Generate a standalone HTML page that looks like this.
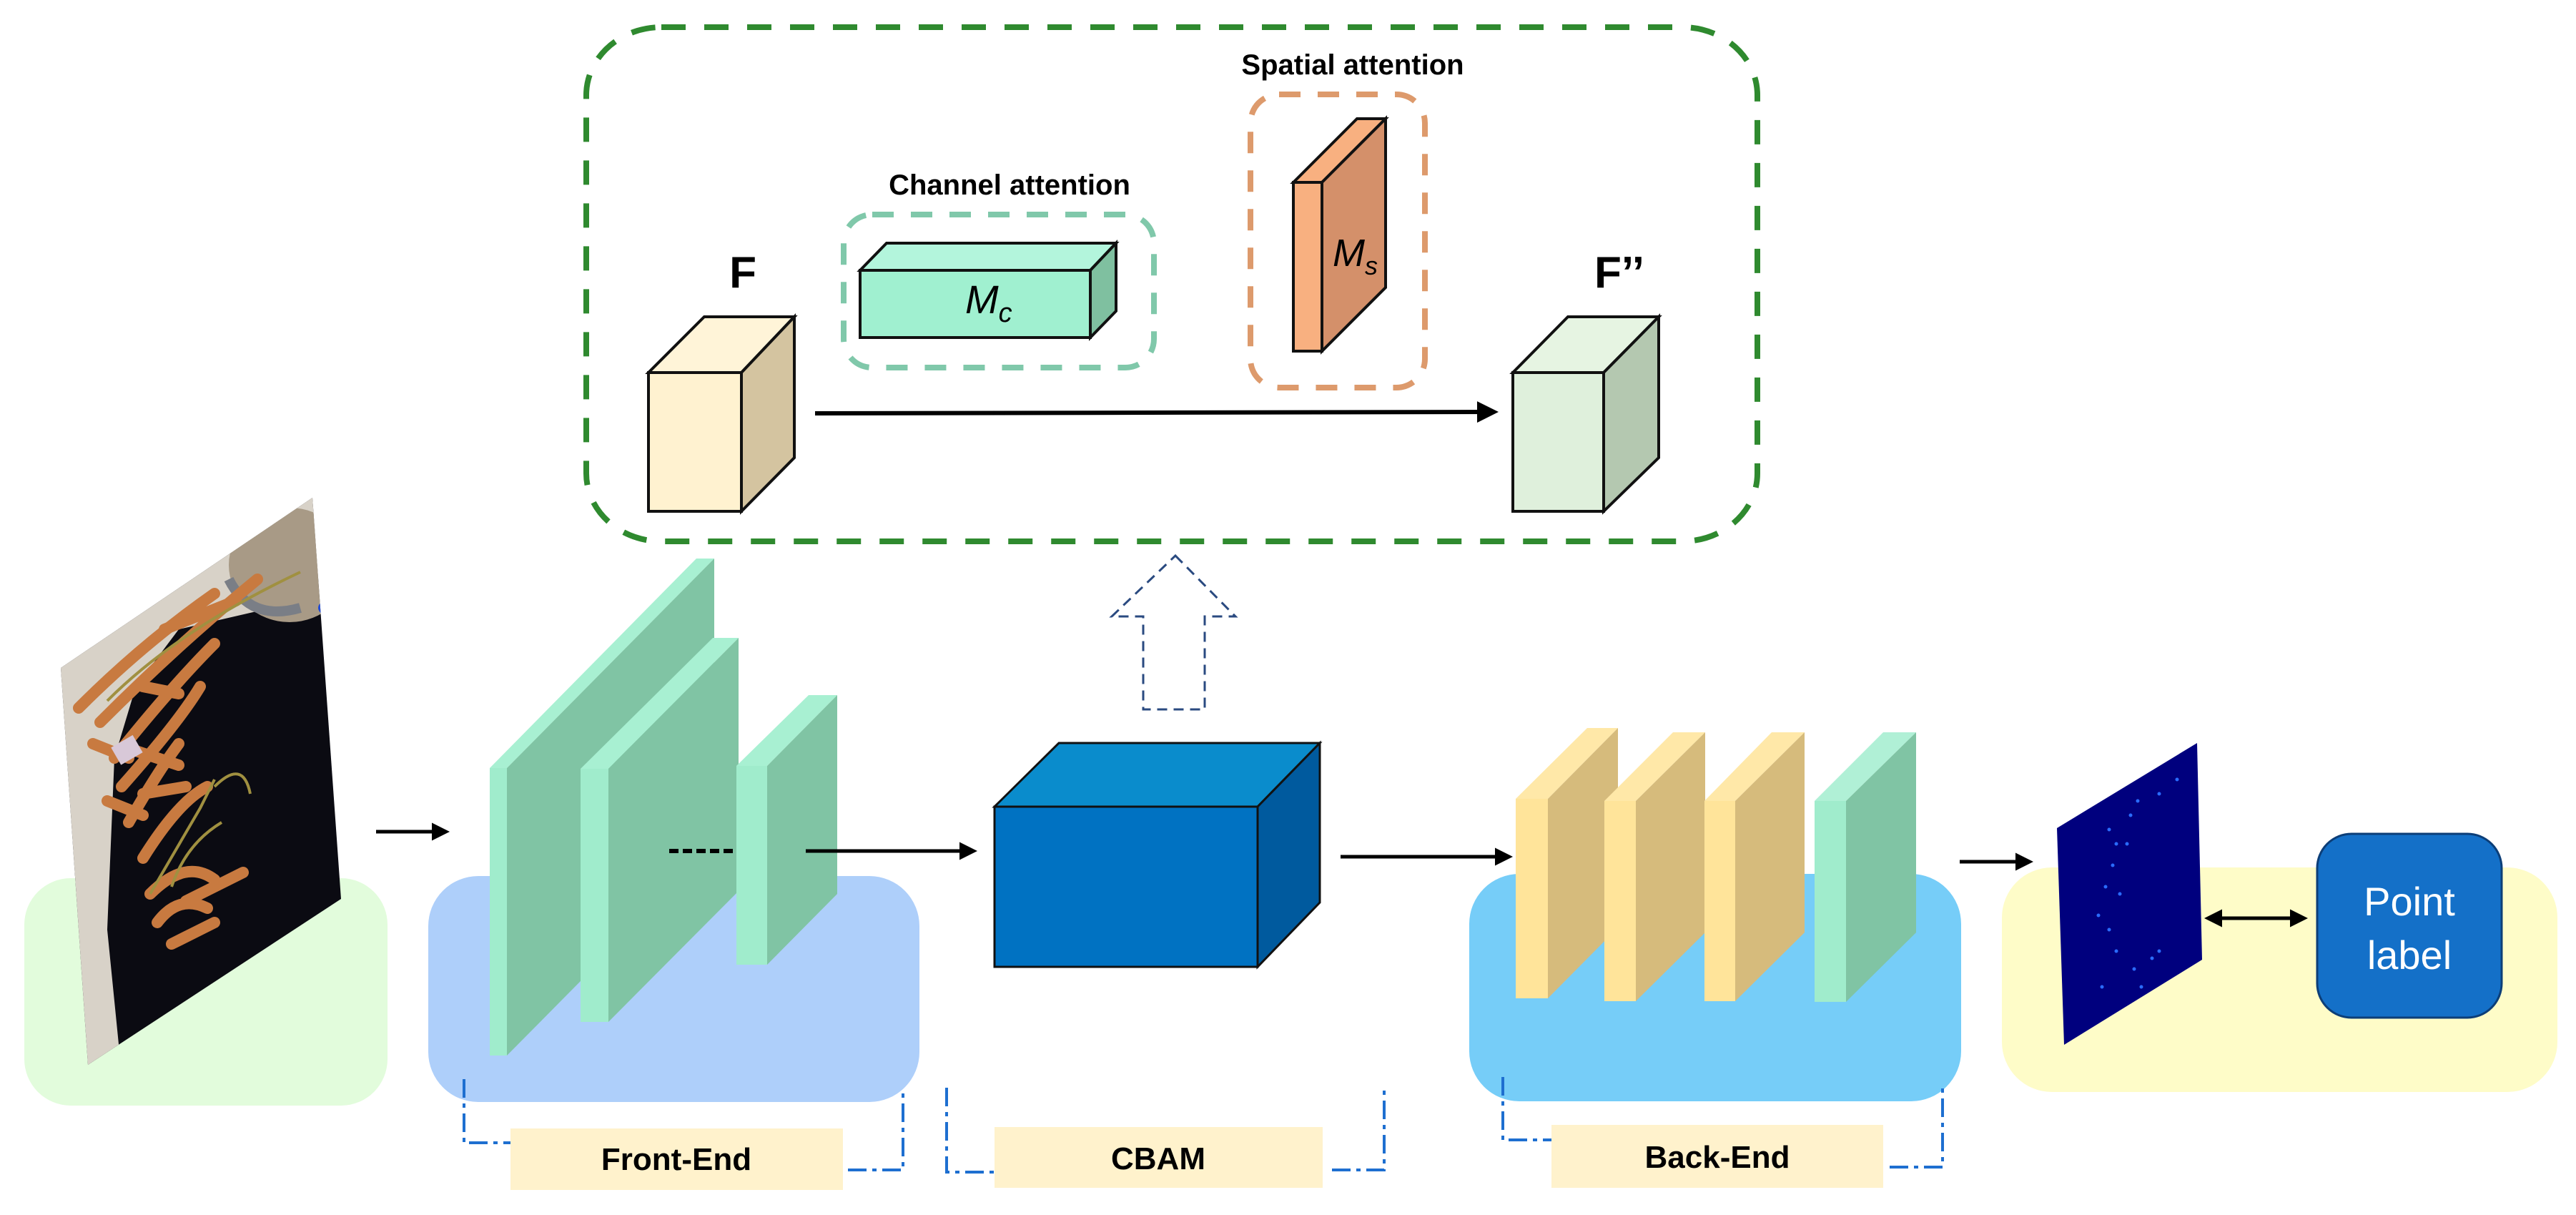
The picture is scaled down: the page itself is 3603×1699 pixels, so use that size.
<!DOCTYPE html>
<html><head><meta charset="utf-8"><style>
html,body{margin:0;padding:0;background:#fff;}
svg{display:block;}
text{font-family:"Liberation Sans",sans-serif;}
</style></head><body>
<svg width="3603" height="1699" viewBox="0 0 3603 1699" xmlns="http://www.w3.org/2000/svg">
<defs>
<marker id="ah" markerWidth="5" markerHeight="5" refX="4" refY="2.5" orient="auto" markerUnits="strokeWidth"><path d="M0,0 L5,2.5 L0,5 z" fill="#000"/></marker>
<marker id="ahs" markerWidth="5" markerHeight="5" refX="1" refY="2.5" orient="auto-start-reverse" markerUnits="strokeWidth"><path d="M0,0 L5,2.5 L0,5 z" fill="#000"/></marker>
<clipPath id="photo"><polygon points="85,934 437,696 477,1257 123,1489"/></clipPath>
</defs>

<rect x="820" y="38" width="1638" height="719" rx="105" ry="95" fill="none" stroke="#2f8a2f" stroke-width="8" stroke-dasharray="34,26"/>
<text x="1412" y="272" font-size="40" font-weight="bold" text-anchor="middle">Channel attention</text>
<text x="1892" y="104" font-size="40" font-weight="bold" text-anchor="middle">Spatial attention</text>
<rect x="1180" y="300" width="434" height="214" rx="40" fill="none" stroke="#80c8aa" stroke-width="8" stroke-dasharray="30,24"/>
<rect x="1749" y="132" width="244" height="410" rx="40" fill="none" stroke="#dd9a6c" stroke-width="8" stroke-dasharray="30,24"/>
<polygon points="1203,378 1240,340 1561,340 1525,378" fill="#b3f5dc" stroke="#111" stroke-width="4"/>
<polygon points="1525,378 1561,340 1561,435 1525,472" fill="#7fc0a0" stroke="#111" stroke-width="4"/>
<rect x="1203" y="378" width="322" height="94" fill="#a0f0d0" stroke="#111" stroke-width="4"/>
<text x="1350" y="438" font-family="'Liberation Serif',serif" font-style="italic" font-size="56">M<tspan font-size="38" dy="12">c</tspan></text>
<polygon points="1809,255 1898,166 1938,166 1849,255" fill="#f8b080" stroke="#111" stroke-width="4"/>
<polygon points="1849,255 1938,166 1938,402 1849,491" fill="#d4906a" stroke="#111" stroke-width="4"/>
<rect x="1809" y="255" width="40" height="236" fill="#f8b080" stroke="#111" stroke-width="4"/>
<text x="1864" y="372" font-family="'Liberation Serif',serif" font-style="italic" font-size="54">M<tspan font-size="36" dy="12">s</tspan></text>
<text x="1039" y="402" font-size="62" font-weight="bold" text-anchor="middle">F</text>
<polygon points="907,521 985,443 1111,443 1037,521" fill="#fff4d8" stroke="#111" stroke-width="4"/>
<polygon points="1037,521 1111,443 1111,640 1037,715" fill="#d4c4a0" stroke="#111" stroke-width="4"/>
<rect x="907" y="521" width="130" height="194" fill="#fff2d0" stroke="#111" stroke-width="4"/>
<text x="2265" y="402" font-size="62" font-weight="bold" text-anchor="middle">F’’</text>
<polygon points="2116,521 2193,443 2320,443 2243,521" fill="#e6f4e2" stroke="#111" stroke-width="4"/>
<polygon points="2243,521 2320,443 2320,640 2243,715" fill="#b4c8b0" stroke="#111" stroke-width="4"/>
<rect x="2116" y="521" width="127" height="194" fill="#dff0dc" stroke="#111" stroke-width="4"/>
<line x1="1140" y1="578" x2="2090" y2="576" stroke="#000" stroke-width="6" marker-end="url(#ah)"/>

<polygon points="1644,777 1728,862 1685,862 1685,992 1599,992 1599,862 1555,862" fill="none" stroke="#2a4a80" stroke-width="3" stroke-dasharray="14,9"/>

<rect x="34" y="1228" width="508" height="318" rx="65" fill="#e2fcdc"/>
<g clip-path="url(#photo)">
<rect x="60" y="680" width="440" height="830" fill="#0b0b12"/>
<polygon points="60,680 500,680 500,770 380,850 250,880 190,960 160,1060 150,1300 170,1500 60,1500" fill="#d8d2c8"/>
<ellipse cx="405" cy="790" rx="85" ry="80" fill="#a89a86"/>
<path d="M320,810 Q350,870 420,850" stroke="#7a7e86" stroke-width="14" fill="none"/>
<ellipse cx="470" cy="850" rx="25" ry="14" fill="#1e4ad8"/>
<g stroke="#c87a40" stroke-width="16" fill="none" stroke-linecap="round">
<path d="M110,990 Q200,900 300,830"/><path d="M140,1010 Q250,900 360,810"/>
<path d="M160,1060 Q240,960 300,900"/><path d="M170,1100 Q250,1010 280,960"/>
<path d="M180,1150 Q220,1080 250,1040"/><path d="M200,1200 Q250,1120 290,1100"/>
<path d="M210,1250 Q260,1200 300,1230"/><path d="M220,1290 Q250,1250 290,1270"/>
<path d="M190,1050 L250,1070"/><path d="M200,1110 L260,1100"/><path d="M240,1320 L300,1290"/>
<path d="M260,1260 L340,1220"/><path d="M200,960 L250,970"/><path d="M130,1040 L180,1060"/>
<path d="M230,880 L330,840"/><path d="M150,1120 L200,1140"/>
</g>
<g stroke="#a09040" stroke-width="4" fill="none"><path d="M210,1250 L280,1130 L300,1090"/><path d="M240,1240 Q260,1180 310,1150"/><path d="M150,980 Q250,880 420,800"/><path d="M300,1100 Q340,1060 350,1110"/></g>
<rect x="160" y="1035" width="35" height="28" fill="#d8c8d8" transform="rotate(-30 177 1049)"/>
</g>
<line x1="526" y1="1163" x2="624" y2="1163" stroke="#000" stroke-width="5" marker-end="url(#ah)"/>

<rect x="599" y="1225" width="687" height="316" rx="70" fill="#aecffa"/>
<polygon points="685,1074 974,781 999,781 709,1074" fill="#a8f0d2"/>
<polygon points="709,1074 999,781 999,1183 709,1476" fill="#80c4a4"/>
<rect x="685" y="1074" width="24" height="402" fill="#a0eccc"/>
<polygon points="812,1075 997,892 1033,892 851,1075" fill="#a8f0d2"/>
<polygon points="851,1075 1033,892 1033,1246 851,1429" fill="#80c4a4"/>
<rect x="812" y="1075" width="39" height="354" fill="#a0eccc"/>
<line x1="936" y1="1190" x2="1030" y2="1190" stroke="#000" stroke-width="6" stroke-dasharray="13,6"/>
<polygon points="1030,1071 1131,972 1171,972 1073,1071" fill="#a8f0d2"/>
<polygon points="1073,1071 1171,972 1171,1250 1073,1349" fill="#80c4a4"/>
<rect x="1030" y="1071" width="43" height="278" fill="#a0eccc"/>
<line x1="1127" y1="1190" x2="1362" y2="1190" stroke="#000" stroke-width="5" marker-end="url(#ah)"/>

<polygon points="1391,1128 1481,1039 1846,1039 1759,1128" fill="#0a8ccc" stroke="#111" stroke-width="3"/>
<polygon points="1759,1128 1846,1039 1846,1262 1759,1352" fill="#005a9e" stroke="#111" stroke-width="3"/>
<rect x="1391" y="1128" width="368" height="224" fill="#0072c2" stroke="#111" stroke-width="3"/>
<line x1="1875" y1="1198" x2="2111" y2="1198" stroke="#000" stroke-width="5" marker-end="url(#ah)"/>

<rect x="2055" y="1222" width="688" height="318" rx="70" fill="#76cdf8"/>
<polygon points="2120,1117 2220,1018 2263,1018 2165,1117" fill="#ffe8a8"/>
<polygon points="2165,1117 2263,1018 2263,1297 2165,1396" fill="#d6bb7c"/>
<rect x="2120" y="1117" width="45" height="279" fill="#ffe49a"/>
<polygon points="2244,1120 2340,1024 2385,1024 2288,1120" fill="#ffe8a8"/>
<polygon points="2288,1120 2385,1024 2385,1304 2288,1400" fill="#d6bb7c"/>
<rect x="2244" y="1120" width="44" height="280" fill="#ffe49a"/>
<polygon points="2384,1120 2478,1024 2524,1024 2427,1120" fill="#ffe8a8"/>
<polygon points="2427,1120 2524,1024 2524,1304 2427,1400" fill="#d6bb7c"/>
<rect x="2384" y="1120" width="43" height="280" fill="#ffe49a"/>
<polygon points="2538,1120 2634,1024 2680,1024 2582,1120" fill="#b0f0d6"/>
<polygon points="2582,1120 2680,1024 2680,1304 2582,1401" fill="#80c4a4"/>
<rect x="2538" y="1120" width="44" height="281" fill="#a0eccc"/>
<line x1="2741" y1="1205" x2="2839" y2="1205" stroke="#000" stroke-width="5" marker-end="url(#ah)"/>

<rect x="2800" y="1213" width="777" height="314" rx="70" fill="#fefcc8"/>
<polygon points="2877,1158 3073,1039 3080,1342 2887,1461" fill="#00007e"/>
<g fill="#2a6cff">
<circle cx="2950" cy="1160" r="2.5"/><circle cx="2960" cy="1180" r="2.5"/><circle cx="2955" cy="1210" r="2.5"/><circle cx="2945" cy="1240" r="2.5"/><circle cx="2965" cy="1250" r="2.5"/><circle cx="2980" cy="1140" r="2.5"/><circle cx="2990" cy="1120" r="2.5"/><circle cx="3020" cy="1110" r="2.5"/><circle cx="3045" cy="1090" r="2.5"/><circle cx="2935" cy="1280" r="2.5"/><circle cx="2950" cy="1300" r="2.5"/><circle cx="2960" cy="1330" r="2.5"/><circle cx="2985" cy="1355" r="2.5"/><circle cx="2995" cy="1380" r="2.5"/><circle cx="3010" cy="1340" r="2.5"/><circle cx="3020" cy="1330" r="2.5"/><circle cx="2940" cy="1380" r="2.5"/><circle cx="2975" cy="1180" r="2.5"/>
</g>
<line x1="3103" y1="1284" x2="3223" y2="1284" stroke="#000" stroke-width="5" marker-start="url(#ahs)" marker-end="url(#ah)"/>
<rect x="3241" y="1166" width="258" height="257" rx="48" fill="#1470c8" stroke="#0c3e78" stroke-width="3"/>
<text x="3370" y="1280" font-size="56" fill="#fff" text-anchor="middle">Point</text>
<text x="3370" y="1355" font-size="56" fill="#fff" text-anchor="middle">label</text>

<g fill="none" stroke="#1e6fd0" stroke-width="4" stroke-dasharray="26,8,6,8">
<polyline points="649,1509 649,1598 714,1598"/>
<polyline points="1186,1636 1263,1636 1263,1521"/>
<polyline points="1324,1521 1324,1639 1391,1639"/>
<polyline points="1863,1636 1936,1636 1936,1521"/>
<polyline points="2102,1506 2102,1594 2170,1594"/>
<polyline points="2643,1632 2717,1632 2717,1518"/>
</g>
<rect x="714" y="1578" width="465" height="86" fill="#fff2cc"/>
<rect x="1391" y="1576" width="459" height="85" fill="#fff2cc"/>
<rect x="2170" y="1573" width="464" height="88" fill="#fff2cc"/>
<text x="946" y="1636" font-size="44" font-weight="bold" text-anchor="middle">Front-End</text>
<text x="1620" y="1635" font-size="44" font-weight="bold" text-anchor="middle">CBAM</text>
<text x="2402" y="1633" font-size="44" font-weight="bold" text-anchor="middle">Back-End</text>
</svg>
</body></html>
